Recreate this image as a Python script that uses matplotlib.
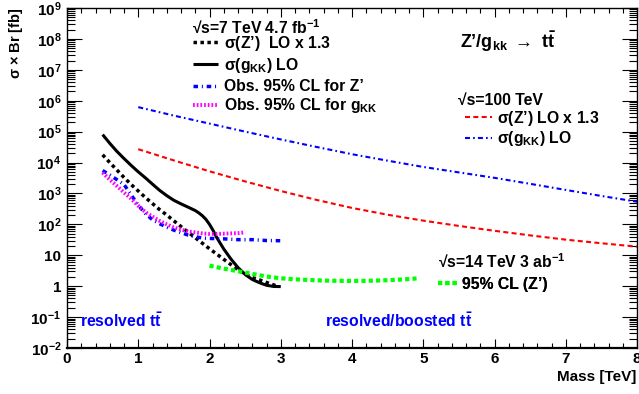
import matplotlib
matplotlib.use("Agg")
import matplotlib.pyplot as plt
from matplotlib.ticker import FixedLocator, FixedFormatter, LogLocator, NullFormatter, MultipleLocator

# ---------------- data ----------------
# sqrt(s)=7 TeV, sigma(Z') LO x 1.3
m_zp7 = [0.5, 0.6, 0.7, 0.8, 0.9, 1.0, 1.1, 1.2, 1.3, 1.4, 1.5, 1.6, 1.7, 1.8, 1.9,
         2.0, 2.1, 2.2, 2.3, 2.4, 2.5, 2.6, 2.7, 2.8, 2.9, 2.95]
xs_zp7 = [17800, 10000, 5750, 3300, 1950, 1200, 740, 470, 300, 200, 130, 85, 56, 37, 24.5,
          16.2, 11, 7.4, 5.0, 3.4, 2.45, 1.9, 1.6, 1.32, 1.1, 1.0]

# sqrt(s)=7 TeV, sigma(g_KK) LO
m_gkk7 = [0.5, 0.6, 0.7, 0.8, 0.9, 1.0, 1.1, 1.2, 1.3, 1.4, 1.5, 1.6, 1.7, 1.8, 1.85, 1.9,
          1.95, 2.0, 2.05, 2.1, 2.2, 2.3, 2.4, 2.5, 2.6, 2.7, 2.8, 2.9, 3.0]
xs_gkk7 = [80000, 42000, 23000, 13500, 8100, 5000, 3200, 2000, 1260, 850, 600, 460, 360, 280, 235, 190,
           145, 100, 64, 38, 16, 7.6, 4.0, 2.4, 1.65, 1.3, 1.07, 0.98, 0.97]

# observed 95% CL limits, 7 TeV 4.7 fb-1
m_obs_zp = [0.5, 0.6, 0.7, 0.8, 0.9, 1.0, 1.1, 1.2, 1.3, 1.4, 1.5, 1.6, 1.7, 1.8, 1.9,
            2.0, 2.2, 2.4, 2.6, 2.8, 3.0]
lim_obs_zp = [5500, 4000, 2800, 1950, 900, 420, 225, 140, 105, 81, 65, 54, 45, 40, 36,
              35, 34, 32, 32, 30, 29.5]

m_obs_gkk = [0.5, 0.6, 0.7, 0.8, 0.9, 1.0, 1.1, 1.2, 1.3, 1.4, 1.5, 1.6, 1.7, 1.8, 1.9,
             2.0, 2.1, 2.2, 2.3, 2.4, 2.5]
lim_obs_gkk = [4700, 2800, 1750, 1070, 680, 400, 250, 178, 129, 100, 79, 68, 59, 55, 51,
               49, 49, 50, 51, 52, 55]

# sqrt(s)=100 TeV cross sections
m_100 = [1.0, 1.5, 2.0, 2.5, 3.0, 3.5, 4.0, 4.5, 5.0, 5.5, 6.0, 6.5, 7.0, 7.5, 8.0]
xs_zp100 = [27000, 11700, 5200, 2450, 1200, 620, 340, 205, 132, 89, 62, 44, 32, 24.5, 19]
xs_gkk100 = [620000, 330000, 182000, 100000, 56000, 32000, 18600, 11500, 7200, 4800,
             3200, 2050, 1300, 830, 540]

# sqrt(s)=14 TeV 3 ab-1, expected 95% CL (Z')
m_14 = [2.0, 2.2, 2.4, 2.6, 2.8, 3.0, 3.2, 3.4, 3.6, 3.8, 4.0, 4.2, 4.4, 4.6, 4.8, 4.95]
lim_14 = [4.6, 3.7, 3.05, 2.5, 2.05, 1.8, 1.67, 1.58, 1.52, 1.49, 1.48, 1.49, 1.53, 1.6, 1.7, 1.82]

# axis ticks
x_ticks = [0, 1, 2, 3, 4, 5, 6, 7, 8]
x_tick_labels = ["0", "1", "2", "3", "4", "5", "6", "7", "8"]
y_ticks = [1e-2, 1e-1, 1, 10, 1e2, 1e3, 1e4, 1e5, 1e6, 1e7, 1e8, 1e9]
y_tick_labels = ["10$^{-2}$", "10$^{-1}$", "1", "10", "10$^{2}$", "10$^{3}$", "10$^{4}$",
                 "10$^{5}$", "10$^{6}$", "10$^{7}$", "10$^{8}$", "10$^{9}$"]

# ---------------- style ----------------
plt.rcParams.update({
    "font.family": ["Liberation Sans", "DejaVu Sans"],
    "font.weight": "bold",
    "mathtext.fontset": "custom",
    "mathtext.rm": "Liberation Sans:bold",
    "mathtext.it": "Liberation Sans:bold",
    "mathtext.bf": "Liberation Sans:bold",
    "mathtext.sf": "Liberation Sans",
    "mathtext.default": "rm",
    "lines.solid_capstyle": "butt",
    "lines.dash_capstyle": "butt",
})

SIG = r"$\mathsf{\sigma}$"
TTBAR = r"$\mathrm{t\bar{t}}$"

fig = plt.figure(figsize=(6.39, 3.94), dpi=100)
ax = fig.add_axes([67 / 639, 46 / 394, 570 / 639, 340 / 394])

# ---------------- curves ----------------
l_zp7, = ax.plot(m_zp7, xs_zp7, color="black", lw=2.5, ls=(0, (1, 1)))
l_gkk7, = ax.plot(m_gkk7, xs_gkk7, color="black", lw=2.2, ls="-")
l_obs_zp, = ax.plot(m_obs_zp, lim_obs_zp, color="#0000ff", lw=2.5, ls=(0, (1.3, 1.1, 0.3, 1.1)))
l_obs_gkk, = ax.plot(m_obs_gkk, lim_obs_gkk, color="#ff00ff", lw=2.8, ls=(0, (0.45, 0.5)))
l_zp100, = ax.plot(m_100, xs_zp100, color="#ff0000", lw=1.5, ls=(0, (2.4, 1.6)))
l_gkk100, = ax.plot(m_100, xs_gkk100, color="#0000ff", lw=1.5, ls=(0, (2.4, 1.5, 0.8, 1.5)))
l_14, = ax.plot(m_14, lim_14, color="#00ff00", lw=3.0, ls=(0, (1, 0.75)))

# ---------------- axes ----------------
ax.set_xlim(0, 8)
ax.set_yscale("log")
ax.set_ylim(1e-2, 1e9)
ax.xaxis.set_major_locator(FixedLocator(x_ticks))
ax.xaxis.set_major_formatter(FixedFormatter(x_tick_labels))
ax.xaxis.set_minor_locator(MultipleLocator(0.2))
ax.yaxis.set_major_locator(FixedLocator(y_ticks))
ax.yaxis.set_major_formatter(FixedFormatter(y_tick_labels))
ax.yaxis.set_minor_locator(LogLocator(base=10, subs=range(2, 10), numticks=100))
ax.yaxis.set_minor_formatter(NullFormatter())

ax.tick_params(which="both", direction="in", top=True, right=True, width=0.8,
               labelsize=11)
ax.tick_params(axis="x", which="major", length=6.5, pad=3)
ax.tick_params(axis="x", which="minor", length=3.3)
ax.tick_params(axis="y", which="major", length=11, pad=4)
ax.tick_params(axis="y", which="minor", length=5.8)
for lab in ax.get_xticklabels() + ax.get_yticklabels():
    lab.set_fontweight("bold")
for side in ["left", "right", "top"]:
    ax.spines[side].set_linewidth(1.0)
ax.spines["bottom"].set_linewidth(1.6)

fig.text(16 / 639, 1 - 7 / 394, SIG + r" $\mathsf{\times}$ Br [fb]", rotation=90,
         ha="center", va="top", fontsize=10.5)
fig.text(636 / 639, 1 - 377 / 394, "Mass [TeV]", ha="right", va="center", fontsize=11)


# ---------------- legends ----------------
def key(line, label, x, y, hl):
    leg = ax.legend([line], [label], loc="center left", bbox_to_anchor=(x, y),
                    bbox_transform=ax.transAxes, frameon=False, borderpad=0,
                    borderaxespad=0, handlelength=hl, handletextpad=0.35,
                    prop={"size": 11.3, "weight": "bold"})
    ax.add_artist(leg)


TXT = dict(transform=ax.transAxes, va="baseline", ha="left", fontsize=11.3)

ax.text(0.219, 0.928, "√s=7 TeV 4.7 fb$^{-1}$", **TXT)
key(l_zp7, SIG + "(Z’)  LO x 1.3", 0.221, 0.897, 1.6)
key(l_gkk7, SIG + "(g$_{\\mathrm{KK}}$) LO", 0.221, 0.832, 1.6)
key(l_obs_zp, "Obs. 95% CL for Z’", 0.221, 0.768, 1.6)
key(l_obs_gkk, "Obs. 95% CL for g$_{\\mathrm{KK}}$", 0.221, 0.712, 1.6)

ax.text(0.689, 0.882, "Z’/g$_{\\mathrm{kk}}$ $\\rightarrow$ " + TTBAR,
        transform=ax.transAxes, va="baseline", ha="left", fontsize=13)

ax.text(0.686, 0.715, "√s=100 TeV", **TXT)
key(l_zp100, SIG + "(Z’) LO x 1.3", 0.698, 0.676, 1.7)
key(l_gkk100, SIG + "(g$_{\\mathrm{KK}}$) LO", 0.698, 0.615, 1.7)

ax.text(0.651, 0.238, "√s=14 TeV 3 ab$^{-1}$", **TXT)
key(l_14, "95% CL (Z’)", 0.651, 0.188, 1.2)

ax.text(0.023, 0.062, "resolved " + TTBAR, color="#0000ff", transform=ax.transAxes,
        va="baseline", ha="left", fontsize=11.3)
ax.text(0.453, 0.062, "resolved/boosted " + TTBAR, color="#0000ff", transform=ax.transAxes,
        va="baseline", ha="left", fontsize=11.3)

fig.savefig("out.png", dpi=100)
